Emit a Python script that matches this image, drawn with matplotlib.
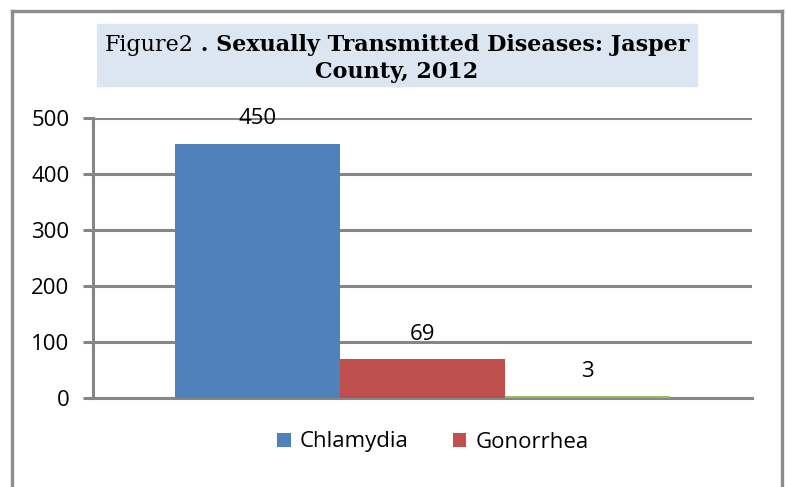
import matplotlib.pyplot as plt
from matplotlib.patches import Rectangle
from matplotlib.lines import Line2D

diseases = ['Chlamydia', 'Gonorrhea', 'Syphilis']
cases = [454, 69, 3]
case_labels = ['450', '69', '3']
colors = ['#4f81bd', '#c0504d', '#9bbb59']

W, H = 787, 487
fig = plt.figure(figsize=(W / 100, H / 100), dpi=100)
plt.rcParams['font.family'] = ['Open Sans', 'DejaVu Sans']

grey = '#868686'

# outer frame (bottom edge is cut off in the original)
for xs, ys in [([11.5, 11.5], [H + 5, 11]), ([11.5, 782], [11, 11]), ([782, 782], [11, H + 5])]:
    fig.add_artist(Line2D([x / W for x in xs], [1 - y / H for y in ys],
                          color='#8c8c8c', lw=2.4, transform=fig.transFigure))

ax = fig.add_axes([93 / W, 1 - 398 / H, (752 - 93) / W, (398 - 118) / H])
ax.set_xlim(-0.5, 0.5)
ax.set_ylim(0, 500)

xpos = [-0.25, 0, 0.25]
bars = ax.bar(xpos, cases, width=0.25, color=colors, zorder=3)
for x, h, lab in zip(xpos, cases, case_labels):
    ax.annotate(lab, (x, h), xytext=(0, 18), textcoords='offset points',
                ha='center', va='center', fontsize=16, zorder=4)

ax.set_yticks(range(0, 501, 100))
ax.yaxis.grid(True, color=grey, lw=2.2, zorder=0)
ax.set_xticks([])
ax.tick_params(axis='y', length=7, width=2.2, color=grey, labelsize=16, pad=10)
for s in ['top', 'right']:
    ax.spines[s].set_visible(False)
for s in ['left', 'bottom']:
    ax.spines[s].set_color(grey)
    ax.spines[s].set_linewidth(2.2)

fig.legend(bars[:2], diseases[:2], loc='center', bbox_to_anchor=(433 / W, 1 - 442 / H),
           ncol=2, frameon=False, fontsize=16, handlelength=0.6, handleheight=0.6,
           handletextpad=0.4, columnspacing=2.0)

# title box
fig.add_artist(Rectangle((97 / W, 1 - 86 / H), 600 / W, 62 / H, color='#dce6f2',
                         transform=fig.transFigure, zorder=0))
serif = ['DejaVu Serif']
t1 = fig.text(0, 0, 'Figure2', fontsize=16, family=serif)
t2 = fig.text(0, 0, ' . Sexually Transmitted Diseases: Jasper', fontsize=16,
              family=serif, fontweight='bold')
fig.canvas.draw()
r = fig.canvas.get_renderer()
w1 = t1.get_window_extent(r).width
w2 = t2.get_window_extent(r).width
x0 = 397 - (w1 + w2) / 2
t1.set_position((x0 / W, 1 - 45 / H))
t1.set_va('center')
t2.set_position(((x0 + w1) / W, 1 - 45 / H))
t2.set_va('center')
fig.text(397 / W, 1 - 72 / H, 'County, 2012', fontsize=16, family=serif,
         fontweight='bold', ha='center', va='center')

fig.savefig('out.png', dpi=100)
